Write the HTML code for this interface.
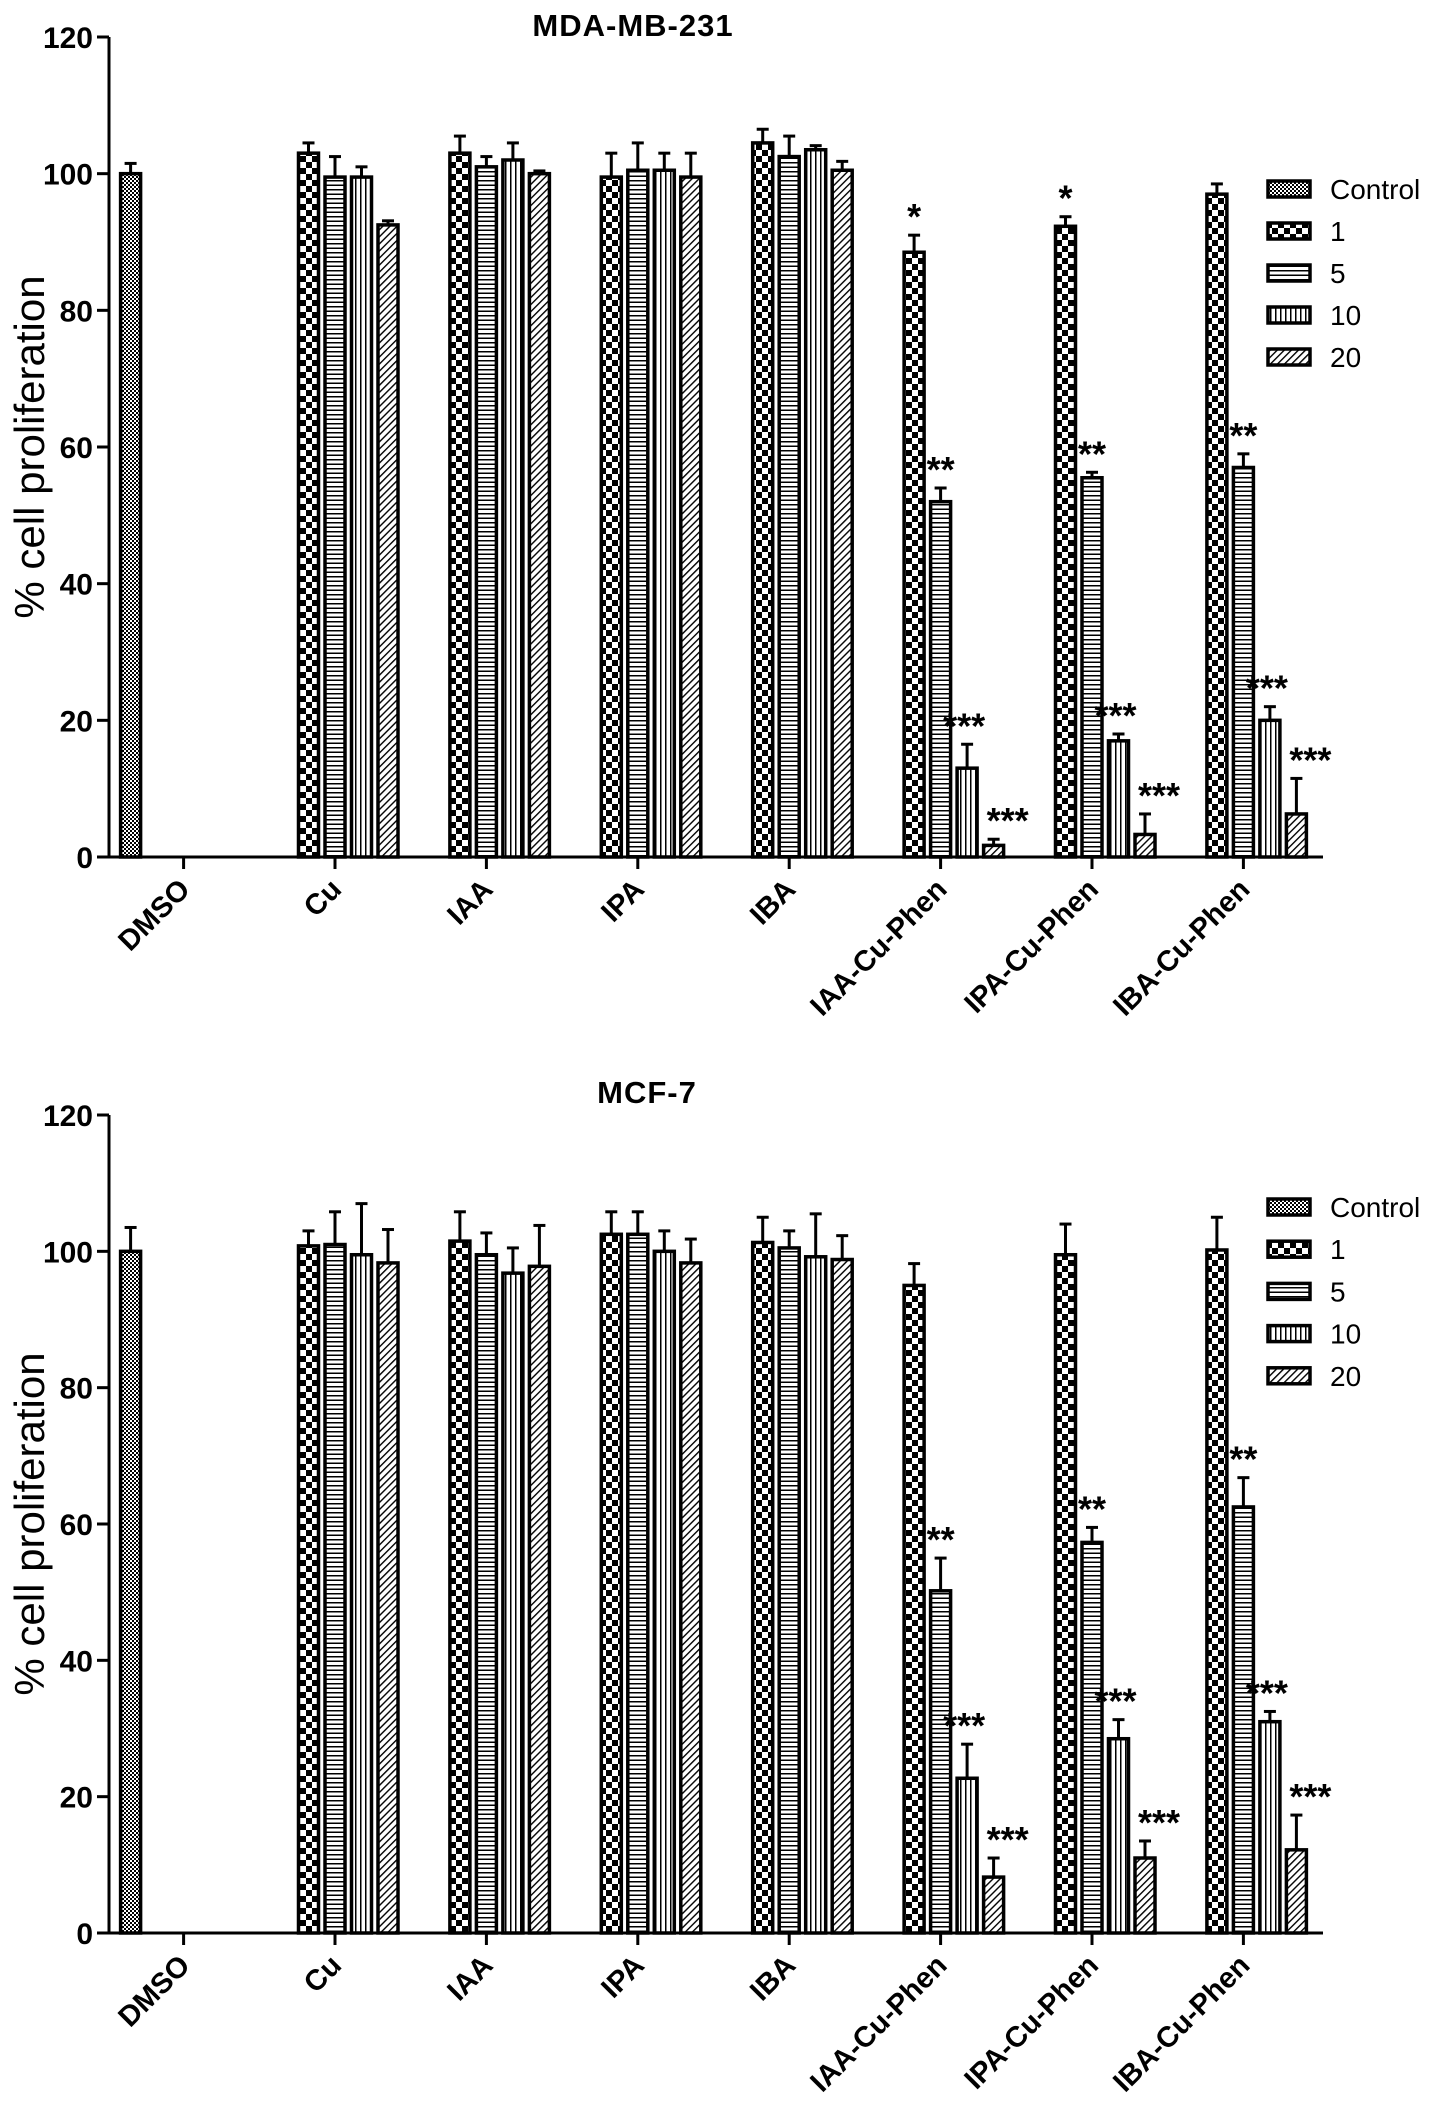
<!DOCTYPE html>
<html><head><meta charset="utf-8">
<style>
html,body{margin:0;padding:0;background:#fff;}
svg{display:block;font-family:"Liberation Sans",Arial,sans-serif;}
</style></head>
<body>
<svg id="fig" width="1441" height="2113" viewBox="0 0 1441 2113" xmlns="http://www.w3.org/2000/svg">
<defs>
<pattern id="p-control" width="4" height="4" patternUnits="userSpaceOnUse">
<rect width="4" height="4" fill="#fff"/><rect width="2" height="2" fill="#000"/><rect x="2" y="2" width="2" height="2" fill="#000"/>
</pattern>
<pattern id="p-1" width="12" height="12" patternUnits="userSpaceOnUse">
<rect width="12" height="12" fill="#fff"/><rect width="6" height="6" fill="#000"/><rect x="6" y="6" width="6" height="6" fill="#000"/>
</pattern>
<pattern id="p-5" width="4.5" height="4.5" patternUnits="userSpaceOnUse">
<rect width="4.5" height="4.5" fill="#fff"/><rect width="4.5" height="1.5" fill="#000"/>
</pattern>
<pattern id="p-10" width="5" height="5" patternUnits="userSpaceOnUse">
<rect width="5" height="5" fill="#fff"/><rect width="1.5" height="5" fill="#000"/>
</pattern>
<pattern id="p-20" width="5" height="5" patternUnits="userSpaceOnUse" patternTransform="rotate(45)">
<rect width="5" height="5" fill="#fff"/><rect width="1.4" height="5" fill="#000"/>
</pattern>
</defs>
</svg>
<script>
const categories = ["DMSO","Cu","IAA","IPA","IBA","IAA-Cu-Phen","IPA-Cu-Phen","IBA-Cu-Phen"];
const seriesNames = ["Control","1","5","10","20"];
const yTicks = [0,20,40,60,80,100,120];
// MDA-MB-231: values[category][series], null = absent
const mdaValues = [
 [100,null,null,null,null],
 [null,103,99.5,99.5,92.5],
 [null,103,101,102,100],
 [null,99.5,100.5,100.5,99.5],
 [null,104.5,102.5,103.5,100.5],
 [null,88.5,52,13,1.7],
 [null,92.3,55.5,17,3.3],
 [null,97,57,20,6.3]
];
const mdaErrors = [
 [1.5,0,0,0,0],
 [0,1.5,3,1.5,0.6],
 [0,2.5,1.5,2.5,0.4],
 [0,3.5,4,2.5,3.5],
 [0,2,3,0.6,1.3],
 [0,2.5,2,3.5,0.9],
 [0,1.4,0.8,1,3],
 [0,1.5,2,2,5.2]
];
const mdaStars = [
 ["","","","",""],["","","","",""],["","","","",""],["","","","",""],["","","","",""],
 ["","*","**","***","***"],["","*","**","***","***"],["","","**","***","***"]
];
// MCF-7
const mcfValues = [
 [100,null,null,null,null],
 [null,100.8,101,99.5,98.3],
 [null,101.5,99.5,96.8,97.8],
 [null,102.5,102.5,100,98.3],
 [null,101.3,100.5,99.2,98.8],
 [null,95,50.2,22.7,8.2],
 [null,99.5,57.3,28.5,11],
 [null,100.2,62.5,31,12.2]
];
const mcfErrors = [
 [3.5,0,0,0,0],
 [0,2.2,4.8,7.5,4.9],
 [0,4.3,3.2,3.7,6],
 [0,3.3,3.3,3,3.5],
 [0,3.7,2.5,6.3,3.5],
 [0,3.2,4.8,5,2.8],
 [0,4.5,2.2,2.8,2.5],
 [0,4.8,4.3,1.5,5.1]
];
const mcfStars = [
 ["","","","",""],["","","","",""],["","","","",""],["","","","",""],["","","","",""],
 ["","","**","***","***"],["","","**","***","***"],["","","**","***","***"]
];

const NS="http://www.w3.org/2000/svg";
const svg=document.getElementById('fig');
function mk(tag,attrs,parent){const e=document.createElementNS(NS,tag);for(const k in attrs)e.setAttribute(k,attrs[k]);(parent||svg).appendChild(e);return e;}
const pats=["p-control","p-1","p-5","p-10","p-20"];

function drawChart(cfg){
 const g=mk('g',{});
 
 
 const x0=109, x1=1323, y0=cfg.y0, yTop=cfg.yTop;
 const yScale=v=>y0-(v/120)*(y0-yTop);
 const groupX=i=>183.6+151.4*i;
 const slotX=(i,s)=>groupX(i)+(s-2)*26.5;
 const bw=20;
 const t=mk('text',{x:cfg.titleX,y:cfg.titleY,'text-anchor':'middle','font-size':31,'font-weight':'bold','letter-spacing':1},g);
 t.textContent=cfg.title;
 
 
 const yt=mk('text',{x:0,y:0,'text-anchor':'middle','font-size':42,transform:`translate(44,${(y0+yTop)/2}) rotate(-90)`},g);
 yt.textContent='% cell proliferation';
 
 
 categories.forEach((c,i)=>{
  for(let s=0;s<5;s++){
   const v=cfg.values[i][s]; if(v===null) continue;
   const cx=slotX(i,s), yv=yScale(v), e=cfg.errors[i][s];
   const ye=yScale(v+e);
   if(e>0){
    const el=mk('line',{x1:cx,x2:cx,y1:yv,y2:ye,stroke:'#000','stroke-width':3},g);
    
    
    const cap=mk('line',{x1:cx-6,x2:cx+6,y1:ye,y2:ye,stroke:'#000','stroke-width':3},g);
    
    
   }
   const r=mk('rect',{x:cx-bw/2,y:yv,width:bw,height:y0-yv,fill:`url(#${pats[s]})`,stroke:'#000','stroke-width':3.5},g);
   
   
   const st=cfg.stars[i][s];
   if(st){
    const off = s===4?14:(s===3?-3:0);
    const sx=mk('text',{x:cx+off,y:ye-6,'text-anchor':'middle','font-size':36,'font-weight':'bold'},g);
    sx.textContent=st;
    
    
   }
  }
  const tk=mk('line',{x1:groupX(i),x2:groupX(i),y1:y0,y2:y0+12,stroke:'#000','stroke-width':3},g);
  
  
  const lx=groupX(i)+8, ly=y0+34;
  const lb=mk('text',{x:lx,y:ly,'text-anchor':'end','font-size':29,'font-weight':'bold',transform:`rotate(-45 ${lx} ${ly})`},g);
  lb.textContent=c;
  
  
 });
 const ya=mk('line',{x1:x0,x2:x0,y1:yTop,y2:y0+1.5,stroke:'#000','stroke-width':3},g);
 
 
 const xa=mk('line',{x1:x0,x2:x1,y1:y0,y2:y0,stroke:'#000','stroke-width':3},g);
 
 
 yTicks.forEach(v=>{
  const yy=yScale(v);
  const l=mk('line',{x1:x0-12,x2:x0,y1:yy,y2:yy,stroke:'#000','stroke-width':3},g);
  
  
  const tx=mk('text',{x:x0-16,y:yy+11,'text-anchor':'end','font-size':30,'font-weight':'bold'},g);
  tx.textContent=v;
  
  
 });
 seriesNames.forEach((n,s)=>{
  const ly=cfg.legY+s*cfg.legStep;
  const r=mk('rect',{x:1268,y:ly-8,width:42,height:16,fill:`url(#${pats[s]})`,stroke:'#000','stroke-width':3.5},g);
  
  
  const tx=mk('text',{x:1330,y:ly+10,'font-size':28},g);
  tx.textContent=n;
  
  
 });
}
drawChart({name:'chart-mda-mb-231',title:'MDA-MB-231',titleX:633,titleY:36,y0:857,yTop:37,values:mdaValues,errors:mdaErrors,stars:mdaStars,legY:189,legStep:42});
drawChart({name:'chart-mcf-7',title:'MCF-7',titleX:647,titleY:1103,y0:1933,yTop:1115,values:mcfValues,errors:mcfErrors,stars:mcfStars,legY:1207,legStep:42.2});
</script>
</body></html>
